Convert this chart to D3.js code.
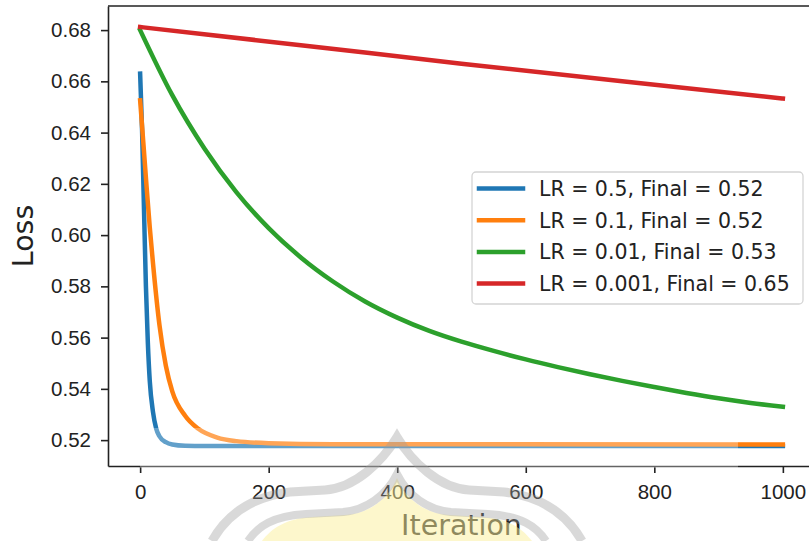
<!DOCTYPE html>
<html>
<head>
<meta charset="utf-8">
<script src="https://cdn.jsdelivr.net/npm/d3@7"></script>
<style>
  body { margin: 0; background: #fff; }
  svg { display: block; font-family: "DejaVu Sans", sans-serif; }
  .axis text { fill: #222; font-size: 20.5px; }
  .axis line, .axis path { stroke: #222; stroke-width: 1.6px; }
</style>
</head>
<body>
<div id="chart"></div>
<script>

var width = 809;
var height = 541;

/* Data */
var seriesNames = ["LR = 0.5, Final = 0.52", "LR = 0.1, Final = 0.52",
                   "LR = 0.01, Final = 0.53", "LR = 0.001, Final = 0.65"];
var colors = ["#1f77b4", "#ff7f0e", "#2ca02c", "#d62728"];

var iterBlue = [0, 3, 6, 9, 12, 15, 20, 25, 30, 40, 50, 70, 100, 1000];
var lossBlue = [0.663, 0.641, 0.610, 0.580, 0.558, 0.543, 0.531, 0.5245, 0.5215, 0.5192, 0.5183, 0.5178, 0.5177, 0.5177];

var iterOrange = [0, 5, 10, 15, 20, 30, 40, 50, 70, 90, 120, 150, 200, 300, 1000];
var lossOrange = [0.6526, 0.636, 0.619, 0.603, 0.589, 0.565, 0.549, 0.539, 0.5295, 0.5245, 0.521, 0.5196, 0.5188, 0.5184, 0.5183];

var iterGreen = [0, 50, 100, 150, 200, 250, 300, 350, 400, 450, 500, 550, 600, 650, 700,
                 750, 800, 850, 900, 950, 1000];
var lossGreen = [0.680, 0.6546, 0.6338, 0.6167, 0.6027, 0.5913, 0.5819, 0.5741, 0.5678, 0.5626, 0.5584,
                 0.5548, 0.5515, 0.5485, 0.5457, 0.5431, 0.5407, 0.5384, 0.5363, 0.5345, 0.5330];

var iterRed = [0, 250, 500, 750, 1000];
var lossRed = [0.6812, 0.6741, 0.6669, 0.660, 0.6533];

var xTicks = [0, 200, 400, 600, 800, 1000];
var yTicks = [0.52, 0.54, 0.56, 0.58, 0.60, 0.62, 0.64, 0.66, 0.68];

var series = [
    {name: seriesNames[0], iter: iterBlue, loss: lossBlue},
    {name: seriesNames[1], iter: iterOrange, loss: lossOrange},
    {name: seriesNames[2], iter: iterGreen, loss: lossGreen},
    {name: seriesNames[3], iter: iterRed, loss: lossRed}
].map(function(s) {
    return {name: s.name, values: s.iter.map((t, i) => ({iter: t, loss: s.loss[i]}))};
});

/* Scale */
var plotLeft = 108, plotRight = 815, plotTop = 6, plotBottom = 466;

var xScale = d3.scaleLinear()
    .domain([-50, 1050])
    .range([plotLeft, plotRight]);

var yScale = d3.scaleLinear()
    .domain([0.5099, 0.6894])
    .range([plotBottom, plotTop]);

var color = d3.scaleOrdinal()
    .domain(seriesNames)
    .range(colors);

/* Add SVG */
var svg = d3.select("#chart").append("svg")
    .attr("width", width)
    .attr("height", height);

/* Lines */
var line = d3.line()
    .curve(d3.curveMonotoneX)
    .x(d => xScale(d.iter))
    .y(d => yScale(d.loss));

svg.append("g")
    .attr("class", "lines")
    .selectAll("path")
    .data(series).enter()
    .append("path")
    .attr("d", d => line(d.values))
    .attr("fill", "none")
    .attr("stroke", d => color(d.name))
    .attr("stroke-width", 4.5)
    .attr("stroke-linecap", "square")
    .attr("stroke-linejoin", "round");

/* Axes */
svg.append("g")
    .attr("class", "x axis")
    .attr("transform", `translate(0, ${plotBottom})`)
    .call(d3.axisBottom(xScale).tickValues(xTicks).tickSize(7).tickSizeOuter(0).tickPadding(11)
        .tickFormat(d3.format("d")));

svg.append("g")
    .attr("class", "y axis")
    .attr("transform", `translate(${plotLeft}, 0)`)
    .call(d3.axisLeft(yScale).tickValues(yTicks).tickSize(7).tickSizeOuter(0).tickPadding(10)
        .tickFormat(d3.format(".2f")));

svg.append("line")
    .attr("x1", plotLeft).attr("x2", plotRight)
    .attr("y1", plotTop).attr("y2", plotTop)
    .attr("stroke", "#222")
    .attr("stroke-width", 1.6);

svg.append("text")
    .attr("x", (plotLeft + plotRight) / 2)
    .attr("y", 535)
    .attr("text-anchor", "middle")
    .attr("fill", "#222")
    .style("font-size", "28.5px")
    .text("Iteration");

svg.append("text")
    .attr("transform", `translate(33, ${(plotTop + plotBottom) / 2}) rotate(-90)`)
    .attr("text-anchor", "middle")
    .attr("fill", "#222")
    .style("font-size", "28.5px")
    .text("Loss");

/* Legend */
var legend = svg.append("g")
    .attr("class", "legend")
    .attr("transform", "translate(472, 172)");

legend.append("rect")
    .attr("width", 331)
    .attr("height", 132)
    .attr("rx", 4)
    .attr("fill", "#fff")
    .attr("fill-opacity", 0.8)
    .attr("stroke", "#d4d4d4")
    .attr("stroke-width", 1.3);

var item = legend.selectAll(".item")
    .data(series).enter()
    .append("g")
    .attr("class", "item")
    .attr("transform", (d, i) => `translate(0, ${16.5 + i * 31.7})`);

item.append("line")
    .attr("x1", 7).attr("x2", 51)
    .attr("stroke", d => color(d.name))
    .attr("stroke-width", 4.5)
    .attr("stroke-linecap", "square");

item.append("text")
    .attr("x", 67)
    .attr("dy", "0.36em")
    .attr("fill", "#222")
    .style("font-size", "20.5px")
    .text(d => d.name);

/* Watermark pasted over the lower part of the picture */
var mark = svg.append("g")
    .attr("class", "watermark")
    .attr("pointer-events", "none");

mark.append("rect")
    .attr("x", 140).attr("y", 428)
    .attr("width", 598).attr("height", 40)
    .attr("fill", "#fff")
    .attr("opacity", 0.3);

mark.append("path")
    .attr("d", "M262,541 C272,528 285,519 312,517 L345,515 C368,514 388,500 397,478 C406,500 426,514 449,515 L482,517 C509,519 522,528 532,541 Z")
    .attr("fill", "#fcf09a")
    .attr("opacity", 0.5);

mark.append("path")
    .attr("d", "M248,541 C258,526 273,516 306,514 L343,512 C366,510 386,496 397,474 C408,496 428,510 451,512 L488,514 C521,516 536,526 546,541")
    .attr("fill", "none")
    .attr("stroke", "#9a9a9a")
    .attr("stroke-width", 8)
    .attr("opacity", 0.38);

mark.append("path")
    .attr("d", "M212,541 C226,516 250,497 290,492 L325,490 C355,488 382,462 397,437 C412,462 439,488 469,490 L504,492 C544,497 568,516 582,541")
    .attr("fill", "none")
    .attr("stroke", "#9a9a9a")
    .attr("stroke-width", 9)
    .attr("opacity", 0.38);

</script>
</body>
</html>
